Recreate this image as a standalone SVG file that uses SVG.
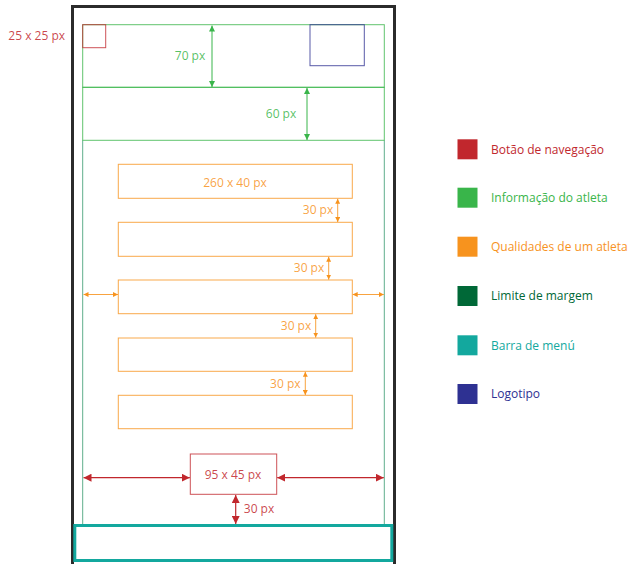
<svg xmlns="http://www.w3.org/2000/svg" width="632" height="564" viewBox="0 0 632 564">
<style>
text{font-family:"Open Sans","Liberation Sans",sans-serif;font-size:12px}
.mid{text-anchor:middle}
.r{fill:#c1272d}.g{fill:#39b54a}.o{fill:#f7931e}.dg{fill:#006837}.t{fill:#13a89e}.b{fill:#2e3192}
.box{fill:none;stroke-width:1;stroke-opacity:0.8}
.ag{stroke:#39b54a;stroke-width:1;marker-start:url(#mg);marker-end:url(#mg)}
.ao{stroke:#f7931e;stroke-width:1;stroke-opacity:0.85;marker-start:url(#mo);marker-end:url(#mo)}
.ar{stroke:#c1272d;stroke-width:1.2;marker-start:url(#mr);marker-end:url(#mr)}
.lbl{fill-opacity:0.85}
</style>
<defs>
<marker id="mg" viewBox="0 0 10 10" refX="10" refY="5" markerWidth="6" markerHeight="6" markerUnits="userSpaceOnUse" orient="auto-start-reverse"><path d="M0,0L10,5L0,10z" fill="#39b54a"/></marker>
<marker id="mo" viewBox="0 0 10 10" refX="10" refY="5" markerWidth="5" markerHeight="5" markerUnits="userSpaceOnUse" orient="auto-start-reverse"><path d="M0,0L10,5L0,10z" fill="#f7931e"/></marker>
<marker id="mr" viewBox="0 0 10 10" refX="10" refY="5" markerWidth="8" markerHeight="8" markerUnits="userSpaceOnUse" orient="auto-start-reverse"><path d="M0,0L10,5L0,10z" fill="#c1272d"/></marker>
</defs>
<rect width="632" height="564" fill="#fff"/>
<g id="frame"><rect x="72.5" y="6.5" width="322" height="560" fill="none" stroke="#2b2b2b" stroke-width="3"/></g>
<g id="margin"><path d="M82.7,140.3V525M384.3,140.3V525" stroke="#5fae8c" stroke-width="1" fill="none"/></g>
<g id="header"><rect class="box" x="82.7" y="24.7" width="301.6" height="62.6" stroke="#39b54a"/></g>
<g id="athlete-info"><rect class="box" x="82.7" y="87.3" width="301.6" height="53" stroke="#39b54a"/></g>
<g id="nav-button"><rect class="box" x="82.7" y="24.7" width="23" height="23" stroke="#c1272d" stroke-opacity="0.65"/><text class="r mid lbl" x="36.7" y="39.6">25 x 25 px</text></g>
<g id="logo"><rect class="box" x="310" y="24.7" width="54.3" height="41" stroke="#2e3192" stroke-opacity="0.65"/></g>
<g id="q1"><rect class="box" x="118.3" y="164.3" width="234" height="34" stroke="#f7931e"/><text class="o mid lbl" x="235" y="186.6">260 x 40 px</text></g>
<g id="q2"><rect class="box" x="118.3" y="222.3" width="234" height="34" stroke="#f7931e"/></g>
<g id="q3"><rect class="box" x="118.3" y="280" width="234" height="33.7" stroke="#f7931e"/></g>
<g id="q4"><rect class="box" x="118.3" y="338" width="234" height="33.3" stroke="#f7931e"/></g>
<g id="q5"><rect class="box" x="118.3" y="395.3" width="234" height="33.4" stroke="#f7931e"/></g>
<g id="main-button"><rect class="box" x="190.3" y="454" width="86.4" height="40.3" stroke="#c1272d"/><text class="r mid lbl" x="233" y="478.6">95 x 45 px</text></g>
<g id="menu-bar"><rect x="74.8" y="525.5" width="317" height="35" fill="#fff" stroke="#13a89e" stroke-width="3"/></g>
<g id="connectors">
<line class="ag" x1="212" y1="25.5" x2="212" y2="87"/>
<line class="ag" x1="307" y1="88" x2="307" y2="140"/>
<line class="ao" x1="337.7" y1="198.8" x2="337.7" y2="222"/>
<line class="ao" x1="328.7" y1="256.8" x2="328.7" y2="279.6"/>
<line class="ao" x1="315.7" y1="314.2" x2="315.7" y2="337.6"/>
<line class="ao" x1="305.3" y1="371.8" x2="305.3" y2="395"/>
<line class="ao" x1="83.5" y1="294.5" x2="118" y2="294.5"/>
<line class="ao" x1="352.7" y1="294.5" x2="383.8" y2="294.5"/>
<line class="ar" x1="83.5" y1="477.7" x2="189.8" y2="477.7"/>
<line class="ar" x1="277.2" y1="477.7" x2="383.8" y2="477.7"/>
<line class="ar" x1="235.7" y1="495" x2="235.7" y2="524"/>
</g>
<g id="labels">
<text class="g mid lbl" x="190" y="60.3">70 px</text>
<text class="g mid lbl" x="281" y="118.3">60 px</text>
<text class="o mid lbl" x="318" y="214.3">30 px</text>
<text class="o mid lbl" x="309" y="272.3">30 px</text>
<text class="o mid lbl" x="296" y="330.3">30 px</text>
<text class="o mid lbl" x="285.3" y="387.6">30 px</text>
<text class="r mid lbl" x="259" y="512.6">30 px</text>
</g>
<g id="legend">
<g id="leg-nav"><rect x="457.5" y="139.3" width="20" height="20" fill="#c1272d"/><text class="r" x="491" y="153.6">Botão de navegação</text></g>
<g id="leg-info"><rect x="457.5" y="187.7" width="20" height="20" fill="#39b54a"/><text class="g" x="491" y="202">Informação do atleta</text></g>
<g id="leg-qual"><rect x="457.5" y="236.7" width="20" height="20" fill="#f7931e"/><text class="o" x="491" y="251">Qualidades de um atleta</text></g>
<g id="leg-margin"><rect x="457.5" y="286" width="20" height="20" fill="#006837"/><text class="dg" x="491" y="300.3">Limite de margem</text></g>
<g id="leg-menu"><rect x="457.5" y="335.3" width="20" height="20" fill="#13a89e"/><text class="t" x="491" y="349.6">Barra de menú</text></g>
<g id="leg-logo"><rect x="457.5" y="384" width="20" height="20" fill="#2e3192"/><text class="b" x="491" y="398.3">Logotipo</text></g>
</g>
</svg>
